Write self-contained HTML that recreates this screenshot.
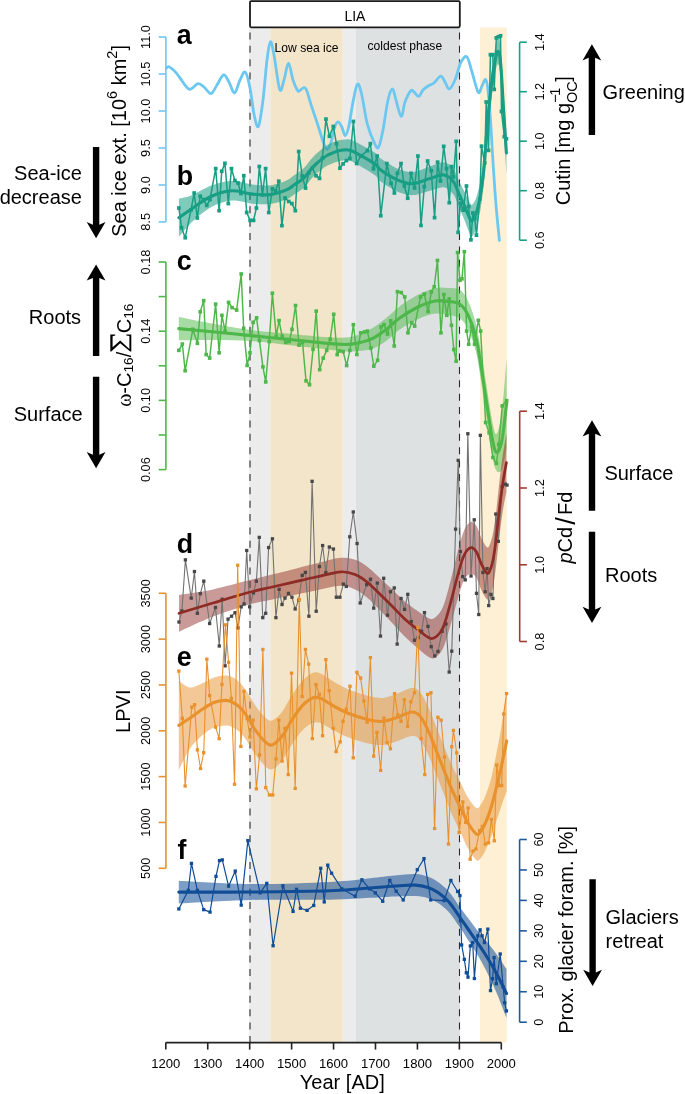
<!DOCTYPE html><html><head><meta charset="utf-8"><style>html,body{margin:0;padding:0;background:#fff;}svg{display:block;will-change:transform;font-family:"Liberation Sans", sans-serif;}</style></head><body><svg width="685" height="1094" viewBox="0 0 685 1094"><rect width="685" height="1094" fill="#fff"/><rect x="249.2" y="27.5" width="21.1" height="1015" fill="#ECECEC"/><rect x="270.3" y="27.5" width="72.5" height="1015" fill="#F3E5C9"/><rect x="342.8" y="27.5" width="12.8" height="1015" fill="#ECECEC"/><rect x="355.6" y="27.5" width="104.4" height="1015" fill="#DEE1E2"/><rect x="480" y="27.5" width="26.8" height="1015" fill="#FDF0D4"/><g stroke="#2a2a2a" stroke-width="1.1" stroke-dasharray="7,6.38"><line x1="250" y1="32.4" x2="250" y2="1042"/><line x1="459.5" y1="32.4" x2="459.5" y2="1042"/></g><rect x="250" y="1.1" width="209.8" height="26.2" rx="1.2" fill="#fff" stroke="#1a1a1a" stroke-width="1.8"/><text x="354.9" y="20.7" text-anchor="middle" font-size="14">LIA</text><text x="274.6" y="52" font-size="12.1">Low sea ice</text><text x="404.85" y="50.4" text-anchor="middle" font-size="12.1">coldest phase</text><path d="M166.4,68.2C166.8,67.95 167.37,66.15 168.8,66.7C170.23,67.25 173.13,69.62 175,71.5C176.87,73.38 177.63,75.05 180,78C182.37,80.95 186.2,88.27 189.2,89.2C192.2,90.13 195.53,83.97 198,83.6C200.47,83.23 201.83,85.33 204,87C206.17,88.67 208.83,93.93 211,93.6C213.17,93.27 214.9,88.12 217,85C219.1,81.88 221.6,75.4 223.6,74.9C225.6,74.4 227.18,78.98 229,82C230.82,85.02 232.67,93.33 234.5,93C236.33,92.67 238.2,83.5 240,80C241.8,76.5 243.63,70.67 245.3,72C246.97,73.33 248.55,81 250,88C251.45,95 252.6,107.58 254,114C255.4,120.42 256.9,128.83 258.4,126.5C259.9,124.17 261.57,111.08 263,100C264.43,88.92 265.77,69.68 267,60C268.23,50.32 269.23,42.73 270.4,41.9C271.57,41.07 272.45,47.07 274,55C275.55,62.93 278.03,85.33 279.7,89.5C281.37,93.67 282.53,84.38 284,80C285.47,75.62 287,63.2 288.5,63.2C290,63.2 291.55,75.53 293,80C294.45,84.47 296.18,88.15 297.2,90C298.22,91.85 298,91.5 299.1,91.1C300.2,90.7 302.53,87.7 303.8,87.6C305.07,87.5 305.43,87.48 306.7,90.5C307.97,93.52 309.45,99.67 311.4,105.7C313.35,111.73 316.37,120.47 318.4,126.7C320.43,132.93 322.15,139.3 323.6,143.1C325.05,146.9 325.83,149.7 327.1,149.5C328.37,149.3 330.03,145.32 331.2,141.9C332.37,138.48 333.03,132.32 334.1,129C335.17,125.68 336.33,122.38 337.6,122C338.87,121.62 340.43,124.45 341.7,126.7C342.97,128.95 344.03,135.5 345.2,135.5C346.37,135.5 347.33,132.63 348.7,126.7C350.07,120.77 351.93,107 353.4,99.9C354.87,92.8 356.13,85.08 357.5,84.1C358.87,83.12 359.95,87.28 361.6,94C363.25,100.72 365.17,116.03 367.4,124.4C369.63,132.77 373.12,140.45 375,144.2C376.88,147.95 377.37,149.27 378.7,146.9C380.03,144.53 381.45,137.82 383,130C384.55,122.18 386.42,106.83 388,100C389.58,93.17 391.17,89 392.5,89C393.83,89 394.55,95.43 396,100C397.45,104.57 399.7,116.07 401.2,116.4C402.7,116.73 403.4,106.28 405,102C406.6,97.72 409.3,92.37 410.8,90.7C412.3,89.03 412.67,91.05 414,92C415.33,92.95 417.3,96.73 418.8,96.4C420.3,96.07 421.38,91.77 423,90C424.62,88.23 426.67,86.97 428.5,85.8C430.33,84.63 431.97,84.6 434,83C436.03,81.4 438.87,76.37 440.7,76.2C442.53,76.03 443.57,79.87 445,82C446.43,84.13 447.63,89.33 449.3,89C450.97,88.67 453.05,84.5 455,80C456.95,75.5 459,65.83 461,62C463,58.17 465.17,55.33 467,57C468.83,58.67 470.13,66.12 472,72C473.87,77.88 476.53,89.97 478.2,92.3C479.87,94.63 480.77,88.15 482,86C483.23,83.85 484.6,78.73 485.6,79.4C486.6,80.07 487.18,83.23 488,90C488.82,96.77 489.67,108 490.5,120C491.33,132 492.08,147.83 493,162C493.92,176.17 494.93,191.93 496,205C497.07,218.07 498.83,234.5 499.4,240.4" fill="none" stroke="#6CC8F0" stroke-width="2.8" stroke-linecap="round" stroke-linejoin="round"/><path d="M178.9,198.61C180.75,198.18 186.48,197.27 190,196C193.52,194.73 196.33,192.78 200,191C203.67,189.22 207.72,186.9 212,185.3C216.28,183.7 221.53,182.06 225.7,181.4C229.87,180.73 233.07,180.88 237,181.32C240.93,181.76 245.47,183.37 249.3,184.05C253.13,184.72 256.5,185.15 260,185.36C263.5,185.56 266.97,185.67 270.3,185.26C273.63,184.85 277.05,183.83 280,182.9C282.95,181.96 285.63,180.95 288,179.66C290.37,178.37 292.2,176.55 294.2,175.15C296.2,173.75 298.18,172.65 300,171.25C301.82,169.85 303.27,168.74 305.1,166.76C306.93,164.78 309.18,161.49 311,159.36C312.82,157.22 314.18,155.7 316,153.97C317.82,152.24 320.07,150.42 321.9,148.97C323.73,147.52 325.18,146.34 327,145.28C328.82,144.21 330.97,143.36 332.8,142.58C334.63,141.8 336.17,141.1 338,140.59C339.83,140.07 341.8,139.66 343.8,139.48C345.8,139.31 347.43,138.81 350,139.53C352.57,140.26 355.03,141.6 359.2,143.81C363.37,146.03 371.53,150.45 375,152.84C378.47,155.22 377.17,155.98 380,158.12C382.83,160.26 388.32,163.67 392,165.7C395.68,167.73 398.52,169.24 402.1,170.3C405.68,171.36 408.87,172.72 413.5,172.08C418.13,171.45 425.23,168.11 429.9,166.5C434.57,164.88 438.48,162.83 441.5,162.39C444.52,161.94 445.92,162.6 448,163.81C450.08,165.01 452.22,166.91 454,169.64C455.78,172.37 456.95,176.53 458.7,180.21C460.45,183.89 462.75,188.16 464.5,191.73C466.25,195.3 467.93,199.48 469.2,201.65C470.47,203.81 470.93,205.37 472.1,204.72C473.27,204.06 474.93,201.11 476.2,197.7C477.47,194.29 478.73,188.79 479.7,184.28C480.67,179.78 481.22,176.37 482,170.67C482.78,164.96 483.65,158.28 484.4,150.06C485.15,141.85 485.75,130.55 486.5,121.38C487.25,112.22 487.8,105.28 488.9,95.05C490,84.82 491.67,69.25 493.1,60C494.53,50.75 496.27,41.74 497.5,39.56C498.73,37.37 499.48,38.13 500.5,46.89C501.52,55.65 502.62,77.78 503.6,92.13C504.58,106.49 505.93,126.19 506.4,133L506.4,173C505.93,165.48 504.58,143.85 503.6,127.87C502.62,111.89 501.52,87.68 500.5,77.11C499.48,66.54 498.73,63.1 497.5,64.44C496.27,65.79 494.53,75.68 493.1,85.2C491.67,94.72 490,110.98 488.9,121.55C487.8,132.12 487.25,139.22 486.5,148.62C485.75,158.01 485.15,169.49 484.4,177.94C483.65,186.39 482.78,193.37 482,199.33C481.22,205.3 480.67,208.89 479.7,213.72C478.73,218.54 477.47,224.47 476.2,228.3C474.93,232.13 473.27,236.01 472.1,236.68C470.93,237.36 470.47,235.09 469.2,232.35C467.93,229.62 466.25,224.63 464.5,220.27C462.75,215.91 460.45,210.34 458.7,206.19C456.95,202.04 455.78,198.19 454,195.36C452.22,192.53 450.08,190.52 448,189.19C445.92,187.87 444.52,187.16 441.5,187.41C438.48,187.67 434.57,189.42 429.9,190.7C425.23,191.99 418.13,194.69 413.5,195.12C408.87,195.55 405.68,194.37 402.1,193.3C398.52,192.23 395.68,190.77 392,188.7C388.32,186.63 382.83,183.1 380,180.88C377.17,178.66 378.47,177.91 375,175.36C371.53,172.81 363.37,168 359.2,165.59C355.03,163.17 352.57,161.71 350,160.87C347.43,160.02 345.8,160.43 343.8,160.52C341.8,160.61 339.83,160.96 338,161.41C336.17,161.86 334.63,162.5 332.8,163.22C330.97,163.94 328.82,164.72 327,165.72C325.18,166.72 323.73,167.85 321.9,169.23C320.07,170.62 317.82,172.36 316,174.03C314.18,175.7 312.82,177.18 311,179.24C309.18,181.31 306.93,184.52 305.1,186.44C303.27,188.36 301.82,189.42 300,190.75C298.18,192.09 296.2,193.12 294.2,194.45C292.2,195.78 290.37,197.53 288,198.74C285.63,199.95 282.95,200.84 280,201.7C277.05,202.57 273.63,203.51 270.3,203.94C266.97,204.36 263.5,204.37 260,204.24C256.5,204.11 253.13,203.75 249.3,203.15C245.47,202.56 240.93,200.94 237,200.68C233.07,200.42 229.87,200.6 225.7,201.6C221.53,202.61 216.28,204.46 212,206.7C207.72,208.93 203.67,212.12 200,215C196.33,217.88 193.52,220.37 190,224C186.48,227.63 180.75,234.66 178.9,236.79Z" fill="#179E84" fill-opacity="0.55"/><polyline points="178.92,208.02 181.54,227.72 185.22,237.71 191,209.86 194.16,193.04 197.31,218 200.2,196.2 203.35,199.61 206.77,205.39 209.92,199.61 215.7,168.61 219.12,210.65 221.74,171.23 224.9,163.35 228.31,203.55 231.47,168.61 234.88,180.43 238.03,183.06 240.92,193.57 243.82,175.7 246.71,212.49 250.12,220.37 253.54,220.37 256.43,208.02 259.32,166.51 262.47,194.88 265.62,168.61 268.78,212.49 272.45,188.84 275.61,190.94 278.76,181.22 281.91,225.62 285.07,198.03 288.74,201.45 291.9,203.55 295.31,210.65 298.73,151.53 302.24,176 305.51,188.03 308.78,172.85 312.28,168.18 316.02,175.77 319.53,178.34 322.45,158.25 325.95,119.12 329.45,136.29 333.31,126.48 336.46,143.65 339.96,168.18 343.12,163.85 346.39,160.58 349.89,158.48 353.39,121.46 356.66,163.5 360.75,156.15 367.41,150.66 370.33,143.65 373.48,168.76 377.16,156.06 380.76,215.7 386.87,163.55 391.03,183.25 394.36,192.95 397.41,173.26 401.01,163.55 404.34,186.02 407.67,198.22 411,173.26 414.6,187.96 417.93,156.06 420.98,225.41 424.31,186.57 427.64,161.05 431.25,170.76 434.58,217.64 437.63,162.16 440.4,181.03 443.73,146.35 446.5,168.54 449.28,202.66 451.5,166.6 453.44,176.87 456.21,141.36 458.16,232.34 460.37,203.22 463.15,210.15 466.48,186.02 468.7,206.55 470.92,239.83 472.86,212.93 474.8,218.47 476.46,235.12 479.79,199.06 481.5,146.2 484.7,163 486.2,102 488.5,150.4 490.4,54.7 492.7,54.7 494.2,89.4 496.3,37.9 498.4,36.8 500.5,35.8 501.5,111.5 504.3,136.7 506.4,138.8" fill="none" stroke="#179E84" stroke-width="1.5" stroke-linejoin="round"/><g fill="#179E84"><rect x="177.07" y="206.17" width="3.7" height="3.7"/><rect x="179.69" y="225.87" width="3.7" height="3.7"/><rect x="183.37" y="235.86" width="3.7" height="3.7"/><rect x="189.15" y="208.01" width="3.7" height="3.7"/><rect x="192.31" y="191.19" width="3.7" height="3.7"/><rect x="195.46" y="216.15" width="3.7" height="3.7"/><rect x="198.35" y="194.35" width="3.7" height="3.7"/><rect x="201.5" y="197.76" width="3.7" height="3.7"/><rect x="204.92" y="203.54" width="3.7" height="3.7"/><rect x="208.07" y="197.76" width="3.7" height="3.7"/><rect x="213.85" y="166.76" width="3.7" height="3.7"/><rect x="217.27" y="208.8" width="3.7" height="3.7"/><rect x="219.89" y="169.38" width="3.7" height="3.7"/><rect x="223.05" y="161.5" width="3.7" height="3.7"/><rect x="226.46" y="201.7" width="3.7" height="3.7"/><rect x="229.62" y="166.76" width="3.7" height="3.7"/><rect x="233.03" y="178.58" width="3.7" height="3.7"/><rect x="236.18" y="181.21" width="3.7" height="3.7"/><rect x="239.07" y="191.72" width="3.7" height="3.7"/><rect x="241.97" y="173.85" width="3.7" height="3.7"/><rect x="244.86" y="210.64" width="3.7" height="3.7"/><rect x="248.27" y="218.52" width="3.7" height="3.7"/><rect x="251.69" y="218.52" width="3.7" height="3.7"/><rect x="254.58" y="206.17" width="3.7" height="3.7"/><rect x="257.47" y="164.66" width="3.7" height="3.7"/><rect x="260.62" y="193.03" width="3.7" height="3.7"/><rect x="263.77" y="166.76" width="3.7" height="3.7"/><rect x="266.93" y="210.64" width="3.7" height="3.7"/><rect x="270.6" y="186.99" width="3.7" height="3.7"/><rect x="273.76" y="189.09" width="3.7" height="3.7"/><rect x="276.91" y="179.37" width="3.7" height="3.7"/><rect x="280.06" y="223.77" width="3.7" height="3.7"/><rect x="283.22" y="196.18" width="3.7" height="3.7"/><rect x="286.89" y="199.6" width="3.7" height="3.7"/><rect x="290.05" y="201.7" width="3.7" height="3.7"/><rect x="293.46" y="208.8" width="3.7" height="3.7"/><rect x="296.88" y="149.68" width="3.7" height="3.7"/><rect x="300.39" y="174.15" width="3.7" height="3.7"/><rect x="303.66" y="186.18" width="3.7" height="3.7"/><rect x="306.93" y="171" width="3.7" height="3.7"/><rect x="310.43" y="166.33" width="3.7" height="3.7"/><rect x="314.17" y="173.92" width="3.7" height="3.7"/><rect x="317.68" y="176.49" width="3.7" height="3.7"/><rect x="320.6" y="156.4" width="3.7" height="3.7"/><rect x="324.1" y="117.27" width="3.7" height="3.7"/><rect x="327.6" y="134.44" width="3.7" height="3.7"/><rect x="331.46" y="124.63" width="3.7" height="3.7"/><rect x="334.61" y="141.8" width="3.7" height="3.7"/><rect x="338.11" y="166.33" width="3.7" height="3.7"/><rect x="341.27" y="162" width="3.7" height="3.7"/><rect x="344.54" y="158.73" width="3.7" height="3.7"/><rect x="348.04" y="156.63" width="3.7" height="3.7"/><rect x="351.54" y="119.61" width="3.7" height="3.7"/><rect x="354.81" y="161.65" width="3.7" height="3.7"/><rect x="358.9" y="154.3" width="3.7" height="3.7"/><rect x="365.56" y="148.81" width="3.7" height="3.7"/><rect x="368.48" y="141.8" width="3.7" height="3.7"/><rect x="371.63" y="166.91" width="3.7" height="3.7"/><rect x="375.31" y="154.21" width="3.7" height="3.7"/><rect x="378.91" y="213.85" width="3.7" height="3.7"/><rect x="385.02" y="161.7" width="3.7" height="3.7"/><rect x="389.18" y="181.4" width="3.7" height="3.7"/><rect x="392.51" y="191.1" width="3.7" height="3.7"/><rect x="395.56" y="171.41" width="3.7" height="3.7"/><rect x="399.16" y="161.7" width="3.7" height="3.7"/><rect x="402.49" y="184.17" width="3.7" height="3.7"/><rect x="405.82" y="196.37" width="3.7" height="3.7"/><rect x="409.15" y="171.41" width="3.7" height="3.7"/><rect x="412.75" y="186.11" width="3.7" height="3.7"/><rect x="416.08" y="154.21" width="3.7" height="3.7"/><rect x="419.13" y="223.56" width="3.7" height="3.7"/><rect x="422.46" y="184.72" width="3.7" height="3.7"/><rect x="425.79" y="159.2" width="3.7" height="3.7"/><rect x="429.4" y="168.91" width="3.7" height="3.7"/><rect x="432.73" y="215.79" width="3.7" height="3.7"/><rect x="435.78" y="160.31" width="3.7" height="3.7"/><rect x="438.55" y="179.18" width="3.7" height="3.7"/><rect x="441.88" y="144.5" width="3.7" height="3.7"/><rect x="444.65" y="166.69" width="3.7" height="3.7"/><rect x="447.43" y="200.81" width="3.7" height="3.7"/><rect x="449.65" y="164.75" width="3.7" height="3.7"/><rect x="451.59" y="175.02" width="3.7" height="3.7"/><rect x="454.36" y="139.51" width="3.7" height="3.7"/><rect x="456.31" y="230.49" width="3.7" height="3.7"/><rect x="458.52" y="201.37" width="3.7" height="3.7"/><rect x="461.3" y="208.3" width="3.7" height="3.7"/><rect x="464.63" y="184.17" width="3.7" height="3.7"/><rect x="466.85" y="204.7" width="3.7" height="3.7"/><rect x="469.07" y="237.98" width="3.7" height="3.7"/><rect x="471.01" y="211.08" width="3.7" height="3.7"/><rect x="472.95" y="216.62" width="3.7" height="3.7"/><rect x="474.61" y="233.27" width="3.7" height="3.7"/><rect x="477.94" y="197.21" width="3.7" height="3.7"/><rect x="479.65" y="144.35" width="3.7" height="3.7"/><rect x="482.85" y="161.15" width="3.7" height="3.7"/><rect x="484.35" y="100.15" width="3.7" height="3.7"/><rect x="486.65" y="148.55" width="3.7" height="3.7"/><rect x="488.55" y="52.85" width="3.7" height="3.7"/><rect x="490.85" y="52.85" width="3.7" height="3.7"/><rect x="492.35" y="87.55" width="3.7" height="3.7"/><rect x="494.45" y="36.05" width="3.7" height="3.7"/><rect x="496.55" y="34.95" width="3.7" height="3.7"/><rect x="498.65" y="33.95" width="3.7" height="3.7"/><rect x="499.65" y="109.65" width="3.7" height="3.7"/><rect x="502.45" y="134.85" width="3.7" height="3.7"/><rect x="504.55" y="136.95" width="3.7" height="3.7"/></g><path d="M178.9,217.7C180.75,216.42 186.48,212.45 190,210C193.52,207.55 196.33,205.33 200,203C203.67,200.67 207.72,197.92 212,196C216.28,194.08 221.53,192.33 225.7,191.5C229.87,190.67 233.07,190.65 237,191C240.93,191.35 245.47,192.97 249.3,193.6C253.13,194.23 256.5,194.63 260,194.8C263.5,194.97 266.97,195.02 270.3,194.6C273.63,194.18 277.05,193.2 280,192.3C282.95,191.4 285.63,190.45 288,189.2C290.37,187.95 292.2,186.17 294.2,184.8C296.2,183.43 298.18,182.37 300,181C301.82,179.63 303.27,178.55 305.1,176.6C306.93,174.65 309.18,171.4 311,169.3C312.82,167.2 314.18,165.7 316,164C317.82,162.3 320.07,160.52 321.9,159.1C323.73,157.68 325.18,156.53 327,155.5C328.82,154.47 330.97,153.65 332.8,152.9C334.63,152.15 336.17,151.48 338,151C339.83,150.52 341.8,150.13 343.8,150C345.8,149.87 347.43,149.42 350,150.2C352.57,150.98 355.03,152.38 359.2,154.7C363.37,157.02 371.53,161.63 375,164.1C378.47,166.57 377.17,167.32 380,169.5C382.83,171.68 388.32,175.15 392,177.2C395.68,179.25 398.52,180.73 402.1,181.8C405.68,182.87 408.87,184.13 413.5,183.6C418.13,183.07 425.23,180.05 429.9,178.6C434.57,177.15 438.48,175.25 441.5,174.9C444.52,174.55 445.92,175.23 448,176.5C450.08,177.77 452.22,179.72 454,182.5C455.78,185.28 456.95,189.28 458.7,193.2C460.45,197.12 462.75,202.03 464.5,206C466.25,209.97 467.93,214.55 469.2,217C470.47,219.45 470.93,221.37 472.1,220.7C473.27,220.03 474.93,216.62 476.2,213C477.47,209.38 478.73,203.67 479.7,199C480.67,194.33 481.22,190.83 482,185C482.78,179.17 483.65,172.33 484.4,164C485.15,155.67 485.75,144.28 486.5,135C487.25,125.72 487.8,118.7 488.9,108.3C490,97.9 491.67,81.98 493.1,72.6C494.53,63.22 496.27,53.77 497.5,52C498.73,50.23 499.48,52.33 500.5,62C501.52,71.67 502.62,94.83 503.6,110C504.58,125.17 505.93,145.83 506.4,153" fill="none" stroke="#179E84" stroke-width="3.1" stroke-linecap="round"/><path d="M178.8,316.9C184.83,318.08 203.02,321.8 215,324C226.98,326.2 238.2,328.47 250.7,330.09C263.2,331.71 277.78,332.57 290,333.73C302.22,334.88 314.83,336.38 324,337C333.17,337.62 339.33,337.8 345,337.45C350.67,337.1 353.2,336.58 358,334.88C362.8,333.19 368.8,330.32 373.8,327.25C378.8,324.19 383.8,319.89 388,316.5C392.2,313.11 394,310.51 399,306.9C404,303.29 411.97,297.99 418,294.87C424.03,291.75 430.2,289.34 435.2,288.19C440.2,287.04 443.92,287.71 448,287.97C452.08,288.22 456.37,287.57 459.7,289.72C463.03,291.87 465.28,295.19 468,300.85C470.72,306.51 474,316.31 476,323.7C478,331.09 478.63,337.31 480,345.2C481.37,353.09 482.87,362.66 484.2,371.06C485.53,379.46 486.8,388.01 488,395.6C489.2,403.19 490.4,410.99 491.4,416.62C492.4,422.25 493.22,426.51 494,429.4C494.78,432.29 495.27,434.23 496.1,433.96C496.93,433.69 497.97,431.97 499,427.8C500.03,423.63 501.02,420.57 502.3,408.94C503.58,397.31 505.97,366.49 506.7,358L506.7,448C505.97,451.34 503.58,464.03 502.3,468.06C501.02,472.09 500.03,471.84 499,472.2C497.97,472.56 496.93,471.51 496.1,470.24C495.27,468.97 494.78,467.84 494,464.6C493.22,461.36 492.4,456.81 491.4,450.78C490.4,444.75 489.2,436.47 488,428.4C486.8,420.33 485.53,411.27 484.2,402.34C482.87,393.41 481.37,383.24 480,374.8C478.63,366.36 478,359.31 476,351.7C474,344.09 470.72,334.72 468,329.15C465.28,323.58 463.03,320.63 459.7,318.28C456.37,315.93 452.08,315.81 448,315.03C443.92,314.25 440.2,312.93 435.2,313.61C430.2,314.3 424.03,316.42 418,319.13C411.97,321.85 404,326.51 399,329.9C394,333.29 392.2,336.43 388,339.5C383.8,342.57 378.8,346.41 373.8,348.35C368.8,350.28 362.8,350.58 358,351.12C353.2,351.65 350.67,351.9 345,351.55C339.33,351.2 333.17,350.05 324,349C314.83,347.95 302.22,346.59 290,345.27C277.78,343.96 263.2,341.99 250.7,341.11C238.2,340.23 226.98,340.14 215,340C203.02,339.86 184.83,340.25 178.8,340.3Z" fill="#4DB749" fill-opacity="0.5"/><polyline points="178.84,350.37 182.34,344.06 185.14,370.69 192.85,329.35 197.41,343.36 200.21,311.83 203.71,300.62 206.17,354.58 209.67,358.08 215.63,304.12 219.13,352.82 221.93,315.33 225.09,331.1 228.59,302.37 232.1,307.62 236.65,310.08 241.21,273.99 243.66,328.3 247.16,365.44 249.96,352.82 253.12,322.34 256.62,317.79 259.43,340.56 262.93,366.84 265.73,381.91 269.24,341.61 272.39,293.26 276.24,336.36 279.05,320.59 282.2,336.36 285.7,342.31 289.21,341.61 292.01,329.35 295.52,305.52 299.02,345.12 302.52,342.31 306.03,380.85 309.53,384.71 313.03,349.32 316.19,311.13 319.69,369.64 323.2,358.08 326.7,350.37 330.2,339.16 333.71,314.28 337.21,354.58 339.34,350.95 343.14,351.53 346.64,365.55 349.85,350.36 353.36,324.67 356.86,354.45 360.66,332.85 364.45,331.97 367.37,331.09 370.88,348.03 373.8,366.13 377.59,360.29 381.09,327.01 384.01,324.67 387.52,334.01 390.73,320.88 394.23,345.99 397.45,291.68 401.24,292.55 404.74,296.93 407.96,332.85 411.75,322.63 414.67,326.13 420.51,296.93 424.31,294.01 428.1,311.53 431.31,291.97 434.23,286.72 437.45,260.44 440.95,332.85 443.87,294.6 446.79,315.33 449.12,298.98 451.46,325.26 453.8,349.49 456.13,361.17 457.59,252.55 459.93,280.29 461.97,278.83 464.31,251.68 466.64,331.09 468.69,344.23 471.61,326.72 474.53,344.23 478.32,320.29 480.66,331.09 485.62,422.48 489.12,432.7 492.92,457.52 496.42,463.36 498.76,444.38 502.26,405.84 506.64,400.58" fill="none" stroke="#4DB749" stroke-width="1.45" stroke-linejoin="round"/><g fill="#4DB749"><rect x="177.04" y="348.57" width="3.6" height="3.6"/><rect x="180.54" y="342.26" width="3.6" height="3.6"/><rect x="183.34" y="368.89" width="3.6" height="3.6"/><rect x="191.05" y="327.55" width="3.6" height="3.6"/><rect x="195.61" y="341.56" width="3.6" height="3.6"/><rect x="198.41" y="310.03" width="3.6" height="3.6"/><rect x="201.91" y="298.82" width="3.6" height="3.6"/><rect x="204.37" y="352.78" width="3.6" height="3.6"/><rect x="207.87" y="356.28" width="3.6" height="3.6"/><rect x="213.83" y="302.32" width="3.6" height="3.6"/><rect x="217.33" y="351.02" width="3.6" height="3.6"/><rect x="220.13" y="313.53" width="3.6" height="3.6"/><rect x="223.29" y="329.3" width="3.6" height="3.6"/><rect x="226.79" y="300.57" width="3.6" height="3.6"/><rect x="230.3" y="305.82" width="3.6" height="3.6"/><rect x="234.85" y="308.28" width="3.6" height="3.6"/><rect x="239.41" y="272.19" width="3.6" height="3.6"/><rect x="241.86" y="326.5" width="3.6" height="3.6"/><rect x="245.36" y="363.64" width="3.6" height="3.6"/><rect x="248.16" y="351.02" width="3.6" height="3.6"/><rect x="251.32" y="320.54" width="3.6" height="3.6"/><rect x="254.82" y="315.99" width="3.6" height="3.6"/><rect x="257.63" y="338.76" width="3.6" height="3.6"/><rect x="261.13" y="365.04" width="3.6" height="3.6"/><rect x="263.93" y="380.11" width="3.6" height="3.6"/><rect x="267.44" y="339.81" width="3.6" height="3.6"/><rect x="270.59" y="291.46" width="3.6" height="3.6"/><rect x="274.44" y="334.56" width="3.6" height="3.6"/><rect x="277.25" y="318.79" width="3.6" height="3.6"/><rect x="280.4" y="334.56" width="3.6" height="3.6"/><rect x="283.9" y="340.51" width="3.6" height="3.6"/><rect x="287.41" y="339.81" width="3.6" height="3.6"/><rect x="290.21" y="327.55" width="3.6" height="3.6"/><rect x="293.72" y="303.72" width="3.6" height="3.6"/><rect x="297.22" y="343.32" width="3.6" height="3.6"/><rect x="300.72" y="340.51" width="3.6" height="3.6"/><rect x="304.23" y="379.05" width="3.6" height="3.6"/><rect x="307.73" y="382.91" width="3.6" height="3.6"/><rect x="311.23" y="347.52" width="3.6" height="3.6"/><rect x="314.39" y="309.33" width="3.6" height="3.6"/><rect x="317.89" y="367.84" width="3.6" height="3.6"/><rect x="321.4" y="356.28" width="3.6" height="3.6"/><rect x="324.9" y="348.57" width="3.6" height="3.6"/><rect x="328.4" y="337.36" width="3.6" height="3.6"/><rect x="331.91" y="312.48" width="3.6" height="3.6"/><rect x="335.41" y="352.78" width="3.6" height="3.6"/><rect x="337.54" y="349.15" width="3.6" height="3.6"/><rect x="341.34" y="349.73" width="3.6" height="3.6"/><rect x="344.84" y="363.75" width="3.6" height="3.6"/><rect x="348.05" y="348.56" width="3.6" height="3.6"/><rect x="351.56" y="322.87" width="3.6" height="3.6"/><rect x="355.06" y="352.65" width="3.6" height="3.6"/><rect x="358.86" y="331.05" width="3.6" height="3.6"/><rect x="362.65" y="330.17" width="3.6" height="3.6"/><rect x="365.57" y="329.29" width="3.6" height="3.6"/><rect x="369.08" y="346.23" width="3.6" height="3.6"/><rect x="372" y="364.33" width="3.6" height="3.6"/><rect x="375.79" y="358.49" width="3.6" height="3.6"/><rect x="379.29" y="325.21" width="3.6" height="3.6"/><rect x="382.21" y="322.87" width="3.6" height="3.6"/><rect x="385.72" y="332.21" width="3.6" height="3.6"/><rect x="388.93" y="319.08" width="3.6" height="3.6"/><rect x="392.43" y="344.19" width="3.6" height="3.6"/><rect x="395.65" y="289.88" width="3.6" height="3.6"/><rect x="399.44" y="290.75" width="3.6" height="3.6"/><rect x="402.94" y="295.13" width="3.6" height="3.6"/><rect x="406.16" y="331.05" width="3.6" height="3.6"/><rect x="409.95" y="320.83" width="3.6" height="3.6"/><rect x="412.87" y="324.33" width="3.6" height="3.6"/><rect x="418.71" y="295.13" width="3.6" height="3.6"/><rect x="422.51" y="292.21" width="3.6" height="3.6"/><rect x="426.3" y="309.73" width="3.6" height="3.6"/><rect x="429.51" y="290.17" width="3.6" height="3.6"/><rect x="432.43" y="284.92" width="3.6" height="3.6"/><rect x="435.65" y="258.64" width="3.6" height="3.6"/><rect x="439.15" y="331.05" width="3.6" height="3.6"/><rect x="442.07" y="292.8" width="3.6" height="3.6"/><rect x="444.99" y="313.53" width="3.6" height="3.6"/><rect x="447.32" y="297.18" width="3.6" height="3.6"/><rect x="449.66" y="323.46" width="3.6" height="3.6"/><rect x="452" y="347.69" width="3.6" height="3.6"/><rect x="454.33" y="359.37" width="3.6" height="3.6"/><rect x="455.79" y="250.75" width="3.6" height="3.6"/><rect x="458.13" y="278.49" width="3.6" height="3.6"/><rect x="460.17" y="277.03" width="3.6" height="3.6"/><rect x="462.51" y="249.88" width="3.6" height="3.6"/><rect x="464.84" y="329.29" width="3.6" height="3.6"/><rect x="466.89" y="342.43" width="3.6" height="3.6"/><rect x="469.81" y="324.92" width="3.6" height="3.6"/><rect x="472.73" y="342.43" width="3.6" height="3.6"/><rect x="476.52" y="318.49" width="3.6" height="3.6"/><rect x="478.86" y="329.29" width="3.6" height="3.6"/><rect x="483.82" y="420.68" width="3.6" height="3.6"/><rect x="487.32" y="430.9" width="3.6" height="3.6"/><rect x="491.12" y="455.72" width="3.6" height="3.6"/><rect x="494.62" y="461.56" width="3.6" height="3.6"/><rect x="496.96" y="442.58" width="3.6" height="3.6"/><rect x="500.46" y="404.04" width="3.6" height="3.6"/><rect x="504.84" y="398.78" width="3.6" height="3.6"/></g><path d="M178.8,328.6C184.83,329.17 203.02,330.83 215,332C226.98,333.17 238.2,334.35 250.7,335.6C263.2,336.85 277.78,338.27 290,339.5C302.22,340.73 314.83,342.17 324,343C333.17,343.83 339.33,344.5 345,344.5C350.67,344.5 353.2,344.12 358,343C362.8,341.88 368.8,340.3 373.8,337.8C378.8,335.3 383.8,331.23 388,328C392.2,324.77 394,321.9 399,318.4C404,314.9 411.97,309.92 418,307C424.03,304.08 430.2,301.82 435.2,300.9C440.2,299.98 443.92,300.98 448,301.5C452.08,302.02 456.37,301.75 459.7,304C463.03,306.25 465.28,309.38 468,315C470.72,320.62 474,330.2 476,337.7C478,345.2 478.63,351.83 480,360C481.37,368.17 482.87,378.03 484.2,386.7C485.53,395.37 486.8,404.17 488,412C489.2,419.83 490.4,427.87 491.4,433.7C492.4,439.53 493.22,443.93 494,447C494.78,450.07 495.27,451.6 496.1,452.1C496.93,452.6 497.97,452.27 499,450C500.03,447.73 501.02,446.33 502.3,438.5C503.58,430.67 505.97,408.92 506.7,403" fill="none" stroke="#4DB749" stroke-width="3.1" stroke-linecap="round"/><path d="M179,594.9C184.67,593.98 201.57,591.77 213,589.38C224.43,587 238.1,582.99 247.6,580.59C257.1,578.2 262.7,576.82 270,575C277.3,573.18 283.73,571.56 291.4,569.65C299.07,567.74 307.73,565.5 316,563.53C324.27,561.55 334.33,558.39 341,557.8C347.67,557.21 351.67,558.54 356,560C360.33,561.46 363.25,563.75 367,566.54C370.75,569.34 374.5,573.13 378.5,576.76C382.5,580.39 386.72,584.29 391,588.31C395.28,592.33 399.87,597.19 404.2,600.88C408.53,604.58 412.7,607.51 417,610.5C421.3,613.49 426.67,617.92 430,618.8C433.33,619.68 434.87,617.73 437,615.8C439.13,613.87 441.05,611.1 442.8,607.22C444.55,603.34 445.9,598.12 447.5,592.5C449.1,586.88 450.82,579.83 452.4,573.52C453.98,567.21 455.4,560.83 457,554.62C458.6,548.42 460.42,541.08 462,536.29C463.58,531.49 464.88,528.27 466.5,525.84C468.12,523.41 470.03,521.67 471.7,521.7C473.37,521.73 474.9,523.32 476.5,526C478.1,528.68 479.53,534.23 481.3,537.8C483.07,541.37 485.57,546.57 487.1,547.39C488.63,548.21 489.43,545.46 490.5,542.71C491.57,539.95 492.58,535.77 493.5,530.86C494.42,525.95 495.08,520.83 496,513.25C496.92,505.67 497.92,494.76 499,485.4C500.08,476.04 501.27,465.7 502.5,457.07C503.73,448.44 505.75,437.53 506.4,433.63L506.4,491.57C505.75,495.13 503.73,504.96 502.5,512.93C501.27,520.9 500.08,530.43 499,539.4C497.92,548.37 496.92,559.33 496,566.75C495.08,574.17 494.42,579.18 493.5,583.94C492.58,588.7 491.57,592.71 490.5,595.29C489.43,597.87 488.63,600.32 487.1,599.41C485.57,598.49 483.07,593.37 481.3,589.8C479.53,586.23 478.1,580.68 476.5,578C474.9,575.32 473.37,574.01 471.7,573.7C470.03,573.39 468.12,574.29 466.5,576.16C464.88,578.02 463.58,580.71 462,584.91C460.42,589.12 458.6,595.78 457,601.38C455.4,606.97 453.98,612.79 452.4,618.48C450.82,624.17 449.1,630.45 447.5,635.5C445.9,640.55 444.55,645.33 442.8,648.78C441.05,652.23 439.13,654.7 437,656.2C434.87,657.7 433.33,659.25 430,657.8C426.67,656.35 421.3,651.15 417,647.5C412.7,643.85 408.53,640.22 404.2,635.92C399.87,631.61 395.28,626.23 391,621.69C386.72,617.14 382.5,612.68 378.5,608.64C374.5,604.6 370.75,600.56 367,597.46C363.25,594.35 360.33,591.94 356,590C351.67,588.06 347.67,585.72 341,585.8C334.33,585.88 324.27,588.85 316,590.47C307.73,592.1 299.07,593.96 291.4,595.55C283.73,597.14 277.3,598.42 270,600C262.7,601.58 257.1,602.24 247.6,605.01C238.1,607.78 224.43,612.17 213,616.62C201.57,621.07 184.67,629.19 179,631.7Z" fill="#8E2B25" fill-opacity="0.48"/><polyline points="178.98,622.04 181.9,610.95 185.4,559.85 191.24,598.1 194.45,571.53 197.37,613.28 200.29,593.72 203.8,581.17 209.64,623.5 215.47,607.45 219.27,645.99 222.19,599.27 225.11,665.84 228.03,619.12 231.53,616.2 235.04,612.7 237.96,627.88 241.17,606.86 244.09,603.94 246.72,550.51 249.64,606.86 253.43,592.85 256.35,581.17 259.27,537.37 262.77,617.66 265.69,613.28 268.61,547.59 272.41,538.83 275.91,617.66 279.12,589.34 282.04,604.53 284.96,598.1 288.47,593.43 291.97,597.23 295.18,608.91 298.69,600.15 302.19,575.33 305.4,572.41 308.91,616.2 312.12,481.31 316.2,611.24 319.42,566.57 322.63,545.55 325.84,572.41 329.34,547.01 333.43,549.05 336.35,597.23 339.85,597.23 343.36,584.09 346.28,586.42 349.78,536.79 353.28,511.97 357.08,543.5 360.23,602.98 366.66,584.67 370.51,579.21 373.72,608.12 377.26,583.07 380.47,636.06 383.68,578.25 387.53,615.18 390.42,591.74 394.28,587.89 397.17,644.09 401.02,598.48 404.56,609.4 407.77,594.31 411.3,621.61 414.51,640.24 418.04,637.67 421.58,631.24 424.47,612.62 428,626.43 431.21,646.66 434.75,655.97 437.96,651.48 442.13,631.24 445.99,623.86 449.2,672.03 451.77,651.16 455.62,529.11 458.19,460.38 460.44,551.59 462.69,576.64 465.26,579.86 467.83,433.72 471.04,576 474.25,519.8 476.5,593.35 478.75,614.54 480.35,435.33 482.92,572.47 485.17,591.74 487.1,568.62 488.7,605.55 490.95,594.31 492.88,598.48 495.77,514.02 498.34,541.32 502.19,486.72 505.4,484.15 507.01,485.11" fill="none" stroke="#727272" stroke-width="1.1" stroke-linejoin="round"/><g fill="#474747"><rect x="177.33" y="620.39" width="3.3" height="3.3"/><rect x="180.25" y="609.3" width="3.3" height="3.3"/><rect x="183.75" y="558.2" width="3.3" height="3.3"/><rect x="189.59" y="596.45" width="3.3" height="3.3"/><rect x="192.8" y="569.88" width="3.3" height="3.3"/><rect x="195.72" y="611.63" width="3.3" height="3.3"/><rect x="198.64" y="592.07" width="3.3" height="3.3"/><rect x="202.15" y="579.52" width="3.3" height="3.3"/><rect x="207.99" y="621.85" width="3.3" height="3.3"/><rect x="213.82" y="605.8" width="3.3" height="3.3"/><rect x="217.62" y="644.34" width="3.3" height="3.3"/><rect x="220.54" y="597.62" width="3.3" height="3.3"/><rect x="223.46" y="664.19" width="3.3" height="3.3"/><rect x="226.38" y="617.47" width="3.3" height="3.3"/><rect x="229.88" y="614.55" width="3.3" height="3.3"/><rect x="233.39" y="611.05" width="3.3" height="3.3"/><rect x="236.31" y="626.23" width="3.3" height="3.3"/><rect x="239.52" y="605.21" width="3.3" height="3.3"/><rect x="242.44" y="602.29" width="3.3" height="3.3"/><rect x="245.07" y="548.86" width="3.3" height="3.3"/><rect x="247.99" y="605.21" width="3.3" height="3.3"/><rect x="251.78" y="591.2" width="3.3" height="3.3"/><rect x="254.7" y="579.52" width="3.3" height="3.3"/><rect x="257.62" y="535.72" width="3.3" height="3.3"/><rect x="261.12" y="616.01" width="3.3" height="3.3"/><rect x="264.04" y="611.63" width="3.3" height="3.3"/><rect x="266.96" y="545.94" width="3.3" height="3.3"/><rect x="270.76" y="537.18" width="3.3" height="3.3"/><rect x="274.26" y="616.01" width="3.3" height="3.3"/><rect x="277.47" y="587.69" width="3.3" height="3.3"/><rect x="280.39" y="602.88" width="3.3" height="3.3"/><rect x="283.31" y="596.45" width="3.3" height="3.3"/><rect x="286.82" y="591.78" width="3.3" height="3.3"/><rect x="290.32" y="595.58" width="3.3" height="3.3"/><rect x="293.53" y="607.26" width="3.3" height="3.3"/><rect x="297.04" y="598.5" width="3.3" height="3.3"/><rect x="300.54" y="573.68" width="3.3" height="3.3"/><rect x="303.75" y="570.76" width="3.3" height="3.3"/><rect x="307.26" y="614.55" width="3.3" height="3.3"/><rect x="310.47" y="479.66" width="3.3" height="3.3"/><rect x="314.55" y="609.59" width="3.3" height="3.3"/><rect x="317.77" y="564.92" width="3.3" height="3.3"/><rect x="320.98" y="543.9" width="3.3" height="3.3"/><rect x="324.19" y="570.76" width="3.3" height="3.3"/><rect x="327.69" y="545.36" width="3.3" height="3.3"/><rect x="331.78" y="547.4" width="3.3" height="3.3"/><rect x="334.7" y="595.58" width="3.3" height="3.3"/><rect x="338.2" y="595.58" width="3.3" height="3.3"/><rect x="341.71" y="582.44" width="3.3" height="3.3"/><rect x="344.63" y="584.77" width="3.3" height="3.3"/><rect x="348.13" y="535.14" width="3.3" height="3.3"/><rect x="351.63" y="510.32" width="3.3" height="3.3"/><rect x="355.43" y="541.85" width="3.3" height="3.3"/><rect x="358.58" y="601.33" width="3.3" height="3.3"/><rect x="365.01" y="583.02" width="3.3" height="3.3"/><rect x="368.86" y="577.56" width="3.3" height="3.3"/><rect x="372.07" y="606.47" width="3.3" height="3.3"/><rect x="375.61" y="581.42" width="3.3" height="3.3"/><rect x="378.82" y="634.41" width="3.3" height="3.3"/><rect x="382.03" y="576.6" width="3.3" height="3.3"/><rect x="385.88" y="613.53" width="3.3" height="3.3"/><rect x="388.77" y="590.09" width="3.3" height="3.3"/><rect x="392.63" y="586.24" width="3.3" height="3.3"/><rect x="395.52" y="642.44" width="3.3" height="3.3"/><rect x="399.37" y="596.83" width="3.3" height="3.3"/><rect x="402.91" y="607.75" width="3.3" height="3.3"/><rect x="406.12" y="592.66" width="3.3" height="3.3"/><rect x="409.65" y="619.96" width="3.3" height="3.3"/><rect x="412.86" y="638.59" width="3.3" height="3.3"/><rect x="416.39" y="636.02" width="3.3" height="3.3"/><rect x="419.93" y="629.59" width="3.3" height="3.3"/><rect x="422.82" y="610.97" width="3.3" height="3.3"/><rect x="426.35" y="624.78" width="3.3" height="3.3"/><rect x="429.56" y="645.01" width="3.3" height="3.3"/><rect x="433.1" y="654.32" width="3.3" height="3.3"/><rect x="436.31" y="649.83" width="3.3" height="3.3"/><rect x="440.48" y="629.59" width="3.3" height="3.3"/><rect x="444.34" y="622.21" width="3.3" height="3.3"/><rect x="447.55" y="670.38" width="3.3" height="3.3"/><rect x="450.12" y="649.51" width="3.3" height="3.3"/><rect x="453.97" y="527.46" width="3.3" height="3.3"/><rect x="456.54" y="458.73" width="3.3" height="3.3"/><rect x="458.79" y="549.94" width="3.3" height="3.3"/><rect x="461.04" y="574.99" width="3.3" height="3.3"/><rect x="463.61" y="578.21" width="3.3" height="3.3"/><rect x="466.18" y="432.07" width="3.3" height="3.3"/><rect x="469.39" y="574.35" width="3.3" height="3.3"/><rect x="472.6" y="518.15" width="3.3" height="3.3"/><rect x="474.85" y="591.7" width="3.3" height="3.3"/><rect x="477.1" y="612.89" width="3.3" height="3.3"/><rect x="478.7" y="433.68" width="3.3" height="3.3"/><rect x="481.27" y="570.82" width="3.3" height="3.3"/><rect x="483.52" y="590.09" width="3.3" height="3.3"/><rect x="485.45" y="566.97" width="3.3" height="3.3"/><rect x="487.05" y="603.9" width="3.3" height="3.3"/><rect x="489.3" y="592.66" width="3.3" height="3.3"/><rect x="491.23" y="596.83" width="3.3" height="3.3"/><rect x="494.12" y="512.37" width="3.3" height="3.3"/><rect x="496.69" y="539.67" width="3.3" height="3.3"/><rect x="500.54" y="485.07" width="3.3" height="3.3"/><rect x="503.75" y="482.5" width="3.3" height="3.3"/><rect x="505.36" y="483.46" width="3.3" height="3.3"/></g><path d="M179,613.3C184.67,611.58 201.57,606.42 213,603C224.43,599.58 238.1,595.38 247.6,592.8C257.1,590.22 262.7,589.2 270,587.5C277.3,585.8 283.73,584.35 291.4,582.6C299.07,580.85 307.73,578.8 316,577C324.27,575.2 334.33,572.13 341,571.8C347.67,571.47 351.67,573.3 356,575C360.33,576.7 363.25,579.05 367,582C370.75,584.95 374.5,588.87 378.5,592.7C382.5,596.53 386.72,600.72 391,605C395.28,609.28 399.87,614.4 404.2,618.4C408.53,622.4 412.7,625.68 417,629C421.3,632.32 426.67,637.13 430,638.3C433.33,639.47 434.87,637.72 437,636C439.13,634.28 441.05,631.67 442.8,628C444.55,624.33 445.9,619.33 447.5,614C449.1,608.67 450.82,602 452.4,596C453.98,590 455.4,583.9 457,578C458.6,572.1 460.42,565.1 462,560.6C463.58,556.1 464.88,553.15 466.5,551C468.12,548.85 470.03,547.53 471.7,547.7C473.37,547.87 474.9,549.32 476.5,552C478.1,554.68 479.53,560.23 481.3,563.8C483.07,567.37 485.57,572.53 487.1,573.4C488.63,574.27 489.43,571.67 490.5,569C491.57,566.33 492.58,562.23 493.5,557.4C494.42,552.57 495.08,547.5 496,540C496.92,532.5 497.92,521.57 499,512.4C500.08,503.23 501.27,493.3 502.5,485C503.73,476.7 505.75,466.33 506.4,462.6" fill="none" stroke="#8E2B25" stroke-width="2.7" stroke-linecap="round"/><path d="M178.8,680.9C180.67,682 186.13,687.07 190,687.5C193.87,687.93 198,685.17 202,683.5C206,681.83 210.17,678.85 214,677.5C217.83,676.15 222,675.47 225,675.4C228,675.33 229.5,675.89 232,677.11C234.5,678.33 237.5,680.28 240,682.73C242.5,685.19 244.67,688.39 247,691.84C249.33,695.3 251.5,699.75 254,703.45C256.5,707.16 259.37,711.2 262,714.08C264.63,716.95 267.47,720.03 269.8,720.7C272.13,721.37 273.8,719.8 276,718.1C278.2,716.4 280.67,713.78 283,710.49C285.33,707.2 287.5,702.42 290,698.37C292.5,694.33 295.5,689.62 298,686.24C300.5,682.87 302.47,680.37 305,678.13C307.53,675.89 310.7,673.63 313.2,672.81C315.7,671.98 317.57,672.34 320,673.19C322.43,674.04 324.78,676.07 327.8,677.9C330.82,679.73 334.4,682.16 338.1,684.18C341.8,686.2 345.92,688.31 350,690C354.08,691.69 358.93,693.15 362.6,694.29C366.27,695.43 368.58,696.23 372,696.83C375.42,697.43 378.93,698.4 383.1,697.9C387.27,697.39 392.23,695.44 397,693.81C401.77,692.18 407.87,688.41 411.7,688.11C415.53,687.81 417.27,688.95 420,692C422.73,695.05 425.43,700.73 428.1,706.4C430.77,712.07 433.28,719.19 436,726C438.72,732.81 441.73,740.69 444.4,747.27C447.07,753.86 449.27,759.55 452,765.5C454.73,771.45 458.13,777.62 460.8,782.95C463.47,788.28 465.38,793.32 468,797.5C470.62,801.68 474.33,806.9 476.5,808.03C478.67,809.16 479.47,806.47 481,804.29C482.53,802.1 484.03,799.11 485.7,794.91C487.37,790.72 489.25,785.82 491,779.1C492.75,772.38 494.53,762.96 496.2,754.62C497.87,746.28 499.25,739.68 501,729.06C502.75,718.44 505.75,697.26 506.7,690.9L506.7,790.9C505.75,793.57 502.75,801.79 501,806.94C499.25,812.09 497.87,816.79 496.2,821.78C494.53,826.77 492.75,832.25 491,836.9C489.25,841.55 487.37,846.22 485.7,849.69C484.03,853.15 482.53,855.97 481,857.71C479.47,859.46 478.67,861.71 476.5,860.17C474.33,858.64 470.62,853.02 468,848.5C465.38,843.98 463.47,838.72 460.8,833.05C458.13,827.38 454.73,820.79 452,814.5C449.27,808.21 447.07,802.07 444.4,795.32C441.73,788.57 438.72,780.82 436,774C433.28,767.18 430.77,760.07 428.1,754.4C425.43,748.73 422.73,743.09 420,740C417.27,736.91 415.53,735.69 411.7,735.89C407.87,736.09 401.77,739.69 397,741.19C392.23,742.69 387.27,744.41 383.1,744.9C378.93,745.4 375.42,744.67 372,744.17C368.58,743.67 366.27,742.94 362.6,741.91C358.93,740.88 354.08,739.51 350,738C345.92,736.49 341.8,734.64 338.1,732.82C334.4,731 330.82,728.77 327.8,727.1C324.78,725.43 322.43,723.53 320,722.81C317.57,722.09 315.7,721.95 313.2,722.79C310.7,723.64 307.53,725.71 305,727.87C302.47,730.03 300.5,732.46 298,735.76C295.5,739.05 292.5,743.67 290,747.63C287.5,751.58 285.33,756.3 283,759.51C280.67,762.72 278.2,765.27 276,766.9C273.8,768.53 272.13,769.97 269.8,769.3C267.47,768.64 264.63,765.72 262,762.92C259.37,760.13 256.5,756.18 254,752.55C251.5,748.92 249.33,744.54 247,741.16C244.67,737.78 242.5,734.64 240,732.27C237.5,729.89 234.5,728.04 232,726.89C229.5,725.75 228,725.3 225,725.4C222,725.5 217.83,725.82 214,727.5C210.17,729.18 206,732 202,735.5C198,739 193.87,742.77 190,748.5C186.13,754.23 180.67,766.33 178.8,769.9Z" fill="#E8912D" fill-opacity="0.5"/><polyline points="178.84,671.07 182.34,718.37 185.14,786 191.8,707.16 194.6,704.71 197.41,749.91 200.56,768.48 203.71,752.71 206.87,659.16 209.67,695.6 215.63,727.13 219.13,738.7 221.93,684.39 225.44,624.82 228.59,662.31 231.39,698.4 234.55,784.25 237.7,565.26 240.85,746.41 244.01,691.39 247.16,718.72 249.96,736.94 253.08,720.16 256.35,788.85 259.62,754.91 262.89,649.44 265.76,787.62 269.44,794.98 272.71,794.98 275.98,759 278.84,720.16 282.11,761.05 284.97,728.34 288.24,774.54 291.51,673.15 295.19,788.44 299.28,599.56 302.14,696.45 305.41,649.44 308.68,664.15 312.36,738.56 316.04,684.6 319.31,694.41 322.58,735.7 325.85,659.66 329.13,690.73 333.21,728.34 336.08,751.64 340.16,741.83 343.03,721.39 346.3,709.13 349.98,686.23 353.25,757.78 356.93,672.33 360.61,678.05 363.88,700.95 367.15,722.21 370.42,657.61 373.69,756.14 376.96,732.43 380.64,770.45 383.91,718.12 387.18,742.65 390.45,748.78 394.54,693.59 397.81,714.85 401.08,721.39 404.35,699.72 407.62,726.3 410.89,701.77 414.57,692.77 417.84,627.36 421.11,738.56 424.79,774.54 427.65,694.41 430.92,692.77 434.6,828.5 437.87,717.3 441.14,720.16 444.42,756.96 448.5,844.04 451.77,746.74 453.41,730.38 456.68,752.87 459.13,832.59 462.81,801.93 465.67,822.37 468.13,808.06 470.17,859.17 473.03,850.99 475.9,848.95 479.57,830.55 482.44,826.46 485.3,844.04 488.57,842.81 491.43,819.51 494.29,840.77 496.75,765.13 499.61,785.58 501.65,785.58 503.7,714.03 506.56,693.59" fill="none" stroke="#E8912D" stroke-width="1.1" stroke-linejoin="round"/><g fill="#E8912D"><rect x="177.19" y="669.42" width="3.3" height="3.3"/><rect x="180.69" y="716.72" width="3.3" height="3.3"/><rect x="183.49" y="784.35" width="3.3" height="3.3"/><rect x="190.15" y="705.51" width="3.3" height="3.3"/><rect x="192.95" y="703.06" width="3.3" height="3.3"/><rect x="195.76" y="748.26" width="3.3" height="3.3"/><rect x="198.91" y="766.83" width="3.3" height="3.3"/><rect x="202.06" y="751.06" width="3.3" height="3.3"/><rect x="205.22" y="657.51" width="3.3" height="3.3"/><rect x="208.02" y="693.95" width="3.3" height="3.3"/><rect x="213.98" y="725.48" width="3.3" height="3.3"/><rect x="217.48" y="737.05" width="3.3" height="3.3"/><rect x="220.28" y="682.74" width="3.3" height="3.3"/><rect x="223.79" y="623.17" width="3.3" height="3.3"/><rect x="226.94" y="660.66" width="3.3" height="3.3"/><rect x="229.74" y="696.75" width="3.3" height="3.3"/><rect x="232.9" y="782.6" width="3.3" height="3.3"/><rect x="236.05" y="563.61" width="3.3" height="3.3"/><rect x="239.2" y="744.76" width="3.3" height="3.3"/><rect x="242.36" y="689.74" width="3.3" height="3.3"/><rect x="245.51" y="717.07" width="3.3" height="3.3"/><rect x="248.31" y="735.29" width="3.3" height="3.3"/><rect x="251.43" y="718.51" width="3.3" height="3.3"/><rect x="254.7" y="787.2" width="3.3" height="3.3"/><rect x="257.97" y="753.26" width="3.3" height="3.3"/><rect x="261.24" y="647.79" width="3.3" height="3.3"/><rect x="264.11" y="785.97" width="3.3" height="3.3"/><rect x="267.79" y="793.33" width="3.3" height="3.3"/><rect x="271.06" y="793.33" width="3.3" height="3.3"/><rect x="274.33" y="757.35" width="3.3" height="3.3"/><rect x="277.19" y="718.51" width="3.3" height="3.3"/><rect x="280.46" y="759.4" width="3.3" height="3.3"/><rect x="283.32" y="726.69" width="3.3" height="3.3"/><rect x="286.59" y="772.89" width="3.3" height="3.3"/><rect x="289.86" y="671.5" width="3.3" height="3.3"/><rect x="293.54" y="786.79" width="3.3" height="3.3"/><rect x="297.63" y="597.91" width="3.3" height="3.3"/><rect x="300.49" y="694.8" width="3.3" height="3.3"/><rect x="303.76" y="647.79" width="3.3" height="3.3"/><rect x="307.03" y="662.5" width="3.3" height="3.3"/><rect x="310.71" y="736.91" width="3.3" height="3.3"/><rect x="314.39" y="682.95" width="3.3" height="3.3"/><rect x="317.66" y="692.76" width="3.3" height="3.3"/><rect x="320.93" y="734.05" width="3.3" height="3.3"/><rect x="324.2" y="658.01" width="3.3" height="3.3"/><rect x="327.48" y="689.08" width="3.3" height="3.3"/><rect x="331.56" y="726.69" width="3.3" height="3.3"/><rect x="334.43" y="749.99" width="3.3" height="3.3"/><rect x="338.51" y="740.18" width="3.3" height="3.3"/><rect x="341.38" y="719.74" width="3.3" height="3.3"/><rect x="344.65" y="707.48" width="3.3" height="3.3"/><rect x="348.33" y="684.58" width="3.3" height="3.3"/><rect x="351.6" y="756.13" width="3.3" height="3.3"/><rect x="355.28" y="670.68" width="3.3" height="3.3"/><rect x="358.96" y="676.4" width="3.3" height="3.3"/><rect x="362.23" y="699.3" width="3.3" height="3.3"/><rect x="365.5" y="720.56" width="3.3" height="3.3"/><rect x="368.77" y="655.96" width="3.3" height="3.3"/><rect x="372.04" y="754.49" width="3.3" height="3.3"/><rect x="375.31" y="730.78" width="3.3" height="3.3"/><rect x="378.99" y="768.8" width="3.3" height="3.3"/><rect x="382.26" y="716.47" width="3.3" height="3.3"/><rect x="385.53" y="741" width="3.3" height="3.3"/><rect x="388.8" y="747.13" width="3.3" height="3.3"/><rect x="392.89" y="691.94" width="3.3" height="3.3"/><rect x="396.16" y="713.2" width="3.3" height="3.3"/><rect x="399.43" y="719.74" width="3.3" height="3.3"/><rect x="402.7" y="698.07" width="3.3" height="3.3"/><rect x="405.97" y="724.65" width="3.3" height="3.3"/><rect x="409.24" y="700.12" width="3.3" height="3.3"/><rect x="412.92" y="691.12" width="3.3" height="3.3"/><rect x="416.19" y="625.71" width="3.3" height="3.3"/><rect x="419.46" y="736.91" width="3.3" height="3.3"/><rect x="423.14" y="772.89" width="3.3" height="3.3"/><rect x="426" y="692.76" width="3.3" height="3.3"/><rect x="429.27" y="691.12" width="3.3" height="3.3"/><rect x="432.95" y="826.85" width="3.3" height="3.3"/><rect x="436.22" y="715.65" width="3.3" height="3.3"/><rect x="439.49" y="718.51" width="3.3" height="3.3"/><rect x="442.77" y="755.31" width="3.3" height="3.3"/><rect x="446.85" y="842.39" width="3.3" height="3.3"/><rect x="450.12" y="745.09" width="3.3" height="3.3"/><rect x="451.76" y="728.73" width="3.3" height="3.3"/><rect x="455.03" y="751.22" width="3.3" height="3.3"/><rect x="457.48" y="830.94" width="3.3" height="3.3"/><rect x="461.16" y="800.28" width="3.3" height="3.3"/><rect x="464.02" y="820.72" width="3.3" height="3.3"/><rect x="466.48" y="806.41" width="3.3" height="3.3"/><rect x="468.52" y="857.52" width="3.3" height="3.3"/><rect x="471.38" y="849.34" width="3.3" height="3.3"/><rect x="474.25" y="847.3" width="3.3" height="3.3"/><rect x="477.92" y="828.9" width="3.3" height="3.3"/><rect x="480.79" y="824.81" width="3.3" height="3.3"/><rect x="483.65" y="842.39" width="3.3" height="3.3"/><rect x="486.92" y="841.16" width="3.3" height="3.3"/><rect x="489.78" y="817.86" width="3.3" height="3.3"/><rect x="492.64" y="839.12" width="3.3" height="3.3"/><rect x="495.1" y="763.48" width="3.3" height="3.3"/><rect x="497.96" y="783.93" width="3.3" height="3.3"/><rect x="500" y="783.93" width="3.3" height="3.3"/><rect x="502.05" y="712.38" width="3.3" height="3.3"/><rect x="504.91" y="691.94" width="3.3" height="3.3"/></g><path d="M178.8,725.4C180.67,724.17 186.13,720.65 190,718C193.87,715.35 198,712.08 202,709.5C206,706.92 210.17,704.02 214,702.5C217.83,700.98 222,700.48 225,700.4C228,700.32 229.5,700.82 232,702C234.5,703.18 237.5,705.08 240,707.5C242.5,709.92 244.67,713.08 247,716.5C249.33,719.92 251.5,724.33 254,728C256.5,731.67 259.37,735.67 262,738.5C264.63,741.33 267.47,744.33 269.8,745C272.13,745.67 273.8,744.17 276,742.5C278.2,740.83 280.67,738.25 283,735C285.33,731.75 287.5,727 290,723C292.5,719 295.5,714.33 298,711C300.5,707.67 302.47,705.2 305,703C307.53,700.8 310.7,698.63 313.2,697.8C315.7,696.97 317.57,697.22 320,698C322.43,698.78 324.78,700.75 327.8,702.5C330.82,704.25 334.4,706.58 338.1,708.5C341.8,710.42 345.92,712.4 350,714C354.08,715.6 358.93,717.02 362.6,718.1C366.27,719.18 368.58,719.95 372,720.5C375.42,721.05 378.93,721.9 383.1,721.4C387.27,720.9 392.23,719.07 397,717.5C401.77,715.93 407.87,712.25 411.7,712C415.53,711.75 417.27,712.93 420,716C422.73,719.07 425.43,724.73 428.1,730.4C430.77,736.07 433.28,743.18 436,750C438.72,756.82 441.73,764.63 444.4,771.3C447.07,777.97 449.27,783.88 452,790C454.73,796.12 458.13,802.5 460.8,808C463.47,813.5 465.38,818.65 468,823C470.62,827.35 474.33,832.77 476.5,834.1C478.67,835.43 479.47,832.97 481,831C482.53,829.03 484.03,826.13 485.7,822.3C487.37,818.47 489.25,813.68 491,808C492.75,802.32 494.53,794.87 496.2,788.2C497.87,781.53 499.25,775.88 501,768C502.75,760.12 505.75,745.42 506.7,740.9" fill="none" stroke="#E8912D" stroke-width="3.1" stroke-linecap="round"/><path d="M178.8,880.7C190.67,881.25 224.8,883.8 250,884C275.2,884.2 310,882.88 330,881.91C350,880.94 359.17,879.26 370,878.2C380.83,877.14 387.43,876.22 395,875.53C402.57,874.85 409.9,873.9 415.4,874.11C420.9,874.32 424.17,875.42 428,876.8C431.83,878.17 434.9,879.84 438.4,882.33C441.9,884.83 445.48,887.7 449,891.77C452.52,895.84 456.33,902.37 459.5,906.74C462.67,911.12 465.12,914.17 468,918C470.88,921.83 473.8,925.93 476.8,929.72C479.8,933.51 482.8,936.78 486,940.73C489.2,944.68 492.58,948.7 496,953.41C499.42,958.12 504.75,966.4 506.5,969L506.5,1018C504.75,1013.6 499.42,999.55 496,991.59C492.58,983.64 489.2,976.59 486,970.27C482.8,963.95 479.8,958.72 476.8,953.68C473.8,948.63 470.88,944.47 468,940C465.12,935.53 462.67,931.48 459.5,926.86C456.33,922.23 452.52,916.16 449,912.23C445.48,908.3 441.9,905.61 438.4,903.27C434.9,900.93 431.83,899.4 428,898.2C424.17,897.01 420.9,896.38 415.4,896.09C409.9,895.8 402.57,896.18 395,896.47C387.43,896.75 380.83,897.26 370,897.8C359.17,898.34 350,899.32 330,899.69C310,900.06 275.2,899.36 250,900C224.8,900.64 190.67,902.92 178.8,903.5Z" fill="#104D96" fill-opacity="0.55"/><polyline points="178.84,908.94 188.3,890.37 191.45,863.39 197.41,890.37 203.71,909.64 210.02,912.1 215.98,876.36 219.48,860.59 222.28,859.89 228.59,886.17 235.25,871.1 241.21,905.09 247.86,840.62 260.13,892.82 266.78,883.36 273.09,945.73 282.9,885.82 293.06,911.39 296.57,889.32 300.42,908.24 307.08,910.34 313.74,905.44 320.74,868.3 324.25,901.93 327.75,865.14 331.6,873.2 341.75,888.84 355.18,896.23 361.9,879.77 369.62,888.84 375.33,892.87 382.72,901.26 389.77,880.44 396.15,891.19 403.2,899.92 410.59,885.48 417.31,869.7 424.02,858.62 430.74,899.92 444.17,900.59 450.89,880.44 457.6,891.52 459.95,895.55 461.63,944.92 464.32,959.36 466.33,972.79 468.01,977.15 470.36,945.92 472.71,942.57 474.39,978.5 477.75,935.85 480.1,929.81 482.12,935.85 484.47,942.57 487.82,929.13 490.51,990.58 492.6,978.7 494.1,957.6 496.3,983.7 500.2,954 503.2,987 504.7,1002.8 506.4,1010.9" fill="none" stroke="#104D96" stroke-width="1.2" stroke-linejoin="round"/><g fill="#104D96"><rect x="177.19" y="907.29" width="3.3" height="3.3"/><rect x="186.65" y="888.72" width="3.3" height="3.3"/><rect x="189.8" y="861.74" width="3.3" height="3.3"/><rect x="195.76" y="888.72" width="3.3" height="3.3"/><rect x="202.06" y="907.99" width="3.3" height="3.3"/><rect x="208.37" y="910.45" width="3.3" height="3.3"/><rect x="214.33" y="874.71" width="3.3" height="3.3"/><rect x="217.83" y="858.94" width="3.3" height="3.3"/><rect x="220.63" y="858.24" width="3.3" height="3.3"/><rect x="226.94" y="884.52" width="3.3" height="3.3"/><rect x="233.6" y="869.45" width="3.3" height="3.3"/><rect x="239.56" y="903.44" width="3.3" height="3.3"/><rect x="246.21" y="838.97" width="3.3" height="3.3"/><rect x="258.48" y="891.17" width="3.3" height="3.3"/><rect x="265.13" y="881.71" width="3.3" height="3.3"/><rect x="271.44" y="944.08" width="3.3" height="3.3"/><rect x="281.25" y="884.17" width="3.3" height="3.3"/><rect x="291.41" y="909.74" width="3.3" height="3.3"/><rect x="294.92" y="887.67" width="3.3" height="3.3"/><rect x="298.77" y="906.59" width="3.3" height="3.3"/><rect x="305.43" y="908.69" width="3.3" height="3.3"/><rect x="312.09" y="903.79" width="3.3" height="3.3"/><rect x="319.09" y="866.65" width="3.3" height="3.3"/><rect x="322.6" y="900.28" width="3.3" height="3.3"/><rect x="326.1" y="863.49" width="3.3" height="3.3"/><rect x="329.95" y="871.55" width="3.3" height="3.3"/><rect x="340.1" y="887.19" width="3.3" height="3.3"/><rect x="353.53" y="894.58" width="3.3" height="3.3"/><rect x="360.25" y="878.12" width="3.3" height="3.3"/><rect x="367.97" y="887.19" width="3.3" height="3.3"/><rect x="373.68" y="891.22" width="3.3" height="3.3"/><rect x="381.07" y="899.61" width="3.3" height="3.3"/><rect x="388.12" y="878.79" width="3.3" height="3.3"/><rect x="394.5" y="889.54" width="3.3" height="3.3"/><rect x="401.55" y="898.27" width="3.3" height="3.3"/><rect x="408.94" y="883.83" width="3.3" height="3.3"/><rect x="415.66" y="868.05" width="3.3" height="3.3"/><rect x="422.37" y="856.97" width="3.3" height="3.3"/><rect x="429.09" y="898.27" width="3.3" height="3.3"/><rect x="442.52" y="898.94" width="3.3" height="3.3"/><rect x="449.24" y="878.79" width="3.3" height="3.3"/><rect x="455.95" y="889.87" width="3.3" height="3.3"/><rect x="458.3" y="893.9" width="3.3" height="3.3"/><rect x="459.98" y="943.27" width="3.3" height="3.3"/><rect x="462.67" y="957.71" width="3.3" height="3.3"/><rect x="464.68" y="971.14" width="3.3" height="3.3"/><rect x="466.36" y="975.5" width="3.3" height="3.3"/><rect x="468.71" y="944.27" width="3.3" height="3.3"/><rect x="471.06" y="940.92" width="3.3" height="3.3"/><rect x="472.74" y="976.85" width="3.3" height="3.3"/><rect x="476.1" y="934.2" width="3.3" height="3.3"/><rect x="478.45" y="928.16" width="3.3" height="3.3"/><rect x="480.47" y="934.2" width="3.3" height="3.3"/><rect x="482.82" y="940.92" width="3.3" height="3.3"/><rect x="486.17" y="927.48" width="3.3" height="3.3"/><rect x="488.86" y="988.93" width="3.3" height="3.3"/><rect x="490.95" y="977.05" width="3.3" height="3.3"/><rect x="492.45" y="955.95" width="3.3" height="3.3"/><rect x="494.65" y="982.05" width="3.3" height="3.3"/><rect x="498.55" y="952.35" width="3.3" height="3.3"/><rect x="501.55" y="985.35" width="3.3" height="3.3"/><rect x="503.05" y="1001.15" width="3.3" height="3.3"/><rect x="504.75" y="1009.25" width="3.3" height="3.3"/></g><path d="M178.8,892.1C190.67,892.08 224.8,892.22 250,892C275.2,891.78 310,891.47 330,890.8C350,890.13 359.17,888.8 370,888C380.83,887.2 387.43,886.48 395,886C402.57,885.52 409.9,884.85 415.4,885.1C420.9,885.35 424.17,886.22 428,887.5C431.83,888.78 434.9,890.38 438.4,892.8C441.9,895.22 445.48,898 449,902C452.52,906 456.33,912.3 459.5,916.8C462.67,921.3 465.12,924.85 468,929C470.88,933.15 473.8,937.28 476.8,941.7C479.8,946.12 482.8,950.37 486,955.5C489.2,960.63 492.58,966.17 496,972.5C499.42,978.83 504.75,990 506.5,993.5" fill="none" stroke="#104D96" stroke-width="3.1" stroke-linecap="round"/><g stroke="#6CC8F0" stroke-width="1.6" fill="none"><line x1="165.9" y1="37" x2="165.9" y2="221.9"/><line x1="165.9" y1="37" x2="158.7" y2="37"/><line x1="165.9" y1="74" x2="158.7" y2="74"/><line x1="165.9" y1="111" x2="158.7" y2="111"/><line x1="165.9" y1="148" x2="158.7" y2="148"/><line x1="165.9" y1="185" x2="158.7" y2="185"/><line x1="165.9" y1="221.9" x2="158.7" y2="221.9"/></g><text transform="translate(145.5,37) rotate(-90)" text-anchor="middle" font-size="12.8" fill="#000" dominant-baseline="central">11.0</text><text transform="translate(145.5,74) rotate(-90)" text-anchor="middle" font-size="12.8" fill="#000" dominant-baseline="central">10.5</text><text transform="translate(145.5,111) rotate(-90)" text-anchor="middle" font-size="12.8" fill="#000" dominant-baseline="central">10.0</text><text transform="translate(145.5,148) rotate(-90)" text-anchor="middle" font-size="12.8" fill="#000" dominant-baseline="central">9.5</text><text transform="translate(145.5,185) rotate(-90)" text-anchor="middle" font-size="12.8" fill="#000" dominant-baseline="central">9.0</text><text transform="translate(145.5,221.9) rotate(-90)" text-anchor="middle" font-size="12.8" fill="#000" dominant-baseline="central">8.5</text><g stroke="#1A9E85" stroke-width="1.6" fill="none"><line x1="519.6" y1="42.2" x2="519.6" y2="240.2"/><line x1="519.6" y1="42.2" x2="526.8" y2="42.2"/><line x1="519.6" y1="91.7" x2="526.8" y2="91.7"/><line x1="519.6" y1="141.2" x2="526.8" y2="141.2"/><line x1="519.6" y1="190.7" x2="526.8" y2="190.7"/><line x1="519.6" y1="240.2" x2="526.8" y2="240.2"/></g><text transform="translate(539,42.2) rotate(-90)" text-anchor="middle" font-size="12.8" fill="#000" dominant-baseline="central">1.4</text><text transform="translate(539,91.7) rotate(-90)" text-anchor="middle" font-size="12.8" fill="#000" dominant-baseline="central">1.2</text><text transform="translate(539,141.2) rotate(-90)" text-anchor="middle" font-size="12.8" fill="#000" dominant-baseline="central">1.0</text><text transform="translate(539,190.7) rotate(-90)" text-anchor="middle" font-size="12.8" fill="#000" dominant-baseline="central">0.8</text><text transform="translate(539,240.2) rotate(-90)" text-anchor="middle" font-size="12.8" fill="#000" dominant-baseline="central">0.6</text><g stroke="#4DB749" stroke-width="1.6" fill="none"><line x1="165.9" y1="262" x2="165.9" y2="469.6"/><line x1="165.9" y1="262" x2="158.7" y2="262"/><line x1="165.9" y1="296.6" x2="158.7" y2="296.6"/><line x1="165.9" y1="331.2" x2="158.7" y2="331.2"/><line x1="165.9" y1="365.8" x2="158.7" y2="365.8"/><line x1="165.9" y1="400.4" x2="158.7" y2="400.4"/><line x1="165.9" y1="435" x2="158.7" y2="435"/><line x1="165.9" y1="469.6" x2="158.7" y2="469.6"/></g><text transform="translate(145.5,262) rotate(-90)" text-anchor="middle" font-size="12.8" fill="#000" dominant-baseline="central">0.18</text><text transform="translate(145.5,331.2) rotate(-90)" text-anchor="middle" font-size="12.8" fill="#000" dominant-baseline="central">0.14</text><text transform="translate(145.5,400.4) rotate(-90)" text-anchor="middle" font-size="12.8" fill="#000" dominant-baseline="central">0.10</text><text transform="translate(145.5,469.6) rotate(-90)" text-anchor="middle" font-size="12.8" fill="#000" dominant-baseline="central">0.06</text><g stroke="#A23B34" stroke-width="1.6" fill="none"><line x1="519.7" y1="411.2" x2="519.7" y2="641.5"/><line x1="519.7" y1="411.2" x2="526.9" y2="411.2"/><line x1="519.7" y1="488" x2="526.9" y2="488"/><line x1="519.7" y1="564.8" x2="526.9" y2="564.8"/><line x1="519.7" y1="641.5" x2="526.9" y2="641.5"/></g><text transform="translate(539.1,411.2) rotate(-90)" text-anchor="middle" font-size="12.8" fill="#000" dominant-baseline="central">1.4</text><text transform="translate(539.1,488) rotate(-90)" text-anchor="middle" font-size="12.8" fill="#000" dominant-baseline="central">1.2</text><text transform="translate(539.1,564.8) rotate(-90)" text-anchor="middle" font-size="12.8" fill="#000" dominant-baseline="central">1.0</text><text transform="translate(539.1,641.5) rotate(-90)" text-anchor="middle" font-size="12.8" fill="#000" dominant-baseline="central">0.8</text><g stroke="#E8912D" stroke-width="1.6" fill="none"><line x1="165.9" y1="593.3" x2="165.9" y2="868.28"/><line x1="165.9" y1="593.3" x2="158.7" y2="593.3"/><line x1="165.9" y1="639.13" x2="158.7" y2="639.13"/><line x1="165.9" y1="684.96" x2="158.7" y2="684.96"/><line x1="165.9" y1="730.79" x2="158.7" y2="730.79"/><line x1="165.9" y1="776.62" x2="158.7" y2="776.62"/><line x1="165.9" y1="822.45" x2="158.7" y2="822.45"/><line x1="165.9" y1="868.28" x2="158.7" y2="868.28"/></g><text transform="translate(145.5,593.3) rotate(-90)" text-anchor="middle" font-size="12.8" fill="#000" dominant-baseline="central">3500</text><text transform="translate(145.5,639.13) rotate(-90)" text-anchor="middle" font-size="12.8" fill="#000" dominant-baseline="central">3000</text><text transform="translate(145.5,684.96) rotate(-90)" text-anchor="middle" font-size="12.8" fill="#000" dominant-baseline="central">2500</text><text transform="translate(145.5,730.79) rotate(-90)" text-anchor="middle" font-size="12.8" fill="#000" dominant-baseline="central">2000</text><text transform="translate(145.5,776.62) rotate(-90)" text-anchor="middle" font-size="12.8" fill="#000" dominant-baseline="central">1500</text><text transform="translate(145.5,822.45) rotate(-90)" text-anchor="middle" font-size="12.8" fill="#000" dominant-baseline="central">1000</text><text transform="translate(145.5,868.28) rotate(-90)" text-anchor="middle" font-size="12.8" fill="#000" dominant-baseline="central">500</text><g stroke="#1F5A9E" stroke-width="1.6" fill="none"><line x1="519.6" y1="839.5" x2="519.6" y2="1022.2"/><line x1="519.6" y1="839.5" x2="526.8" y2="839.5"/><line x1="519.6" y1="869.95" x2="526.8" y2="869.95"/><line x1="519.6" y1="900.4" x2="526.8" y2="900.4"/><line x1="519.6" y1="930.85" x2="526.8" y2="930.85"/><line x1="519.6" y1="961.3" x2="526.8" y2="961.3"/><line x1="519.6" y1="991.75" x2="526.8" y2="991.75"/><line x1="519.6" y1="1022.2" x2="526.8" y2="1022.2"/></g><text transform="translate(538.9,839.5) rotate(-90)" text-anchor="middle" font-size="12.8" fill="#000" dominant-baseline="central">60</text><text transform="translate(538.9,869.95) rotate(-90)" text-anchor="middle" font-size="12.8" fill="#000" dominant-baseline="central">50</text><text transform="translate(538.9,900.4) rotate(-90)" text-anchor="middle" font-size="12.8" fill="#000" dominant-baseline="central">40</text><text transform="translate(538.9,930.85) rotate(-90)" text-anchor="middle" font-size="12.8" fill="#000" dominant-baseline="central">30</text><text transform="translate(538.9,961.3) rotate(-90)" text-anchor="middle" font-size="12.8" fill="#000" dominant-baseline="central">20</text><text transform="translate(538.9,991.75) rotate(-90)" text-anchor="middle" font-size="12.8" fill="#000" dominant-baseline="central">10</text><text transform="translate(538.9,1022.2) rotate(-90)" text-anchor="middle" font-size="12.8" fill="#000" dominant-baseline="central">0</text><g stroke="#222" stroke-width="1.6"><line x1="165.8" y1="1042.6" x2="501.3" y2="1042.6"/><line x1="165.8" y1="1042.6" x2="165.8" y2="1049.6"/><line x1="207.74" y1="1042.6" x2="207.74" y2="1049.6"/><line x1="249.68" y1="1042.6" x2="249.68" y2="1049.6"/><line x1="291.61" y1="1042.6" x2="291.61" y2="1049.6"/><line x1="333.55" y1="1042.6" x2="333.55" y2="1049.6"/><line x1="375.49" y1="1042.6" x2="375.49" y2="1049.6"/><line x1="417.43" y1="1042.6" x2="417.43" y2="1049.6"/><line x1="459.37" y1="1042.6" x2="459.37" y2="1049.6"/><line x1="501.3" y1="1042.6" x2="501.3" y2="1049.6"/></g><text x="165.8" y="1067.7" text-anchor="middle" font-size="13.1">1200</text><text x="207.74" y="1067.7" text-anchor="middle" font-size="13.1">1300</text><text x="249.68" y="1067.7" text-anchor="middle" font-size="13.1">1400</text><text x="291.61" y="1067.7" text-anchor="middle" font-size="13.1">1500</text><text x="333.55" y="1067.7" text-anchor="middle" font-size="13.1">1600</text><text x="375.49" y="1067.7" text-anchor="middle" font-size="13.1">1700</text><text x="417.43" y="1067.7" text-anchor="middle" font-size="13.1">1800</text><text x="459.37" y="1067.7" text-anchor="middle" font-size="13.1">1900</text><text x="501.3" y="1067.7" text-anchor="middle" font-size="13.1">2000</text><text x="342.3" y="1089" text-anchor="middle" font-size="20">Year [AD]</text><text x="176.7" y="43.6" font-size="26.8" font-weight="bold">a</text><text x="176.7" y="184.5" font-size="26.8" font-weight="bold">b</text><text x="176.7" y="269.7" font-size="26.8" font-weight="bold">c</text><text x="176.7" y="553.3" font-size="26.8" font-weight="bold">d</text><text x="176.7" y="666.2" font-size="26.8" font-weight="bold">e</text><text x="177.6" y="859.3" font-size="26.8" font-weight="bold">f</text><g transform="translate(126.2,236.8) rotate(-90)"><text x="0" y="0" font-size="20">Sea ice ext. [10<tspan dy="-9" font-size="14.5">6</tspan><tspan dy="9"> km</tspan><tspan dy="-9" font-size="14.5">2</tspan><tspan dy="9">]</tspan></text></g><g transform="translate(569.6,205.2) rotate(-90)"><text x="0" y="0" font-size="20">Cutin [mg g<tspan dy="6.9" font-size="14.5">OC</tspan><tspan dx="-21.5" dy="-16.7" font-size="14.5">&#8722;<tspan dx="-1.5">1</tspan></tspan><tspan dx="6" dy="9.8">]</tspan></text></g><g transform="translate(130.5,406.8) rotate(-90)"><text x="0" y="0" font-size="20"><tspan font-family="Liberation Serif">&#969;</tspan>-C<tspan dy="2.6" font-size="13.7">16</tspan><tspan dy="-2.6">/</tspan><tspan dx="18.5">C</tspan><tspan dy="2.6" font-size="13.7">16</tspan></text><path d="M55.3,-20.2 L72.4,-20.2 L72.4,-15.3 L71.2,-15.3 L70.5,-17.9 L59.6,-17.9 L66.4,-10.3 L57.9,-1.1 L70.9,-1.1 L71.3,-4.2 L72.4,-4.2 L72.4,0.8 L55.3,0.8 L55.3,-0.3 L63.6,-10.3 L55.3,-19.2 Z" fill="#000"/></g><g transform="translate(572.3,563.6) rotate(-90)"><text x="0" y="0" font-size="20"><tspan font-style="italic">p</tspan>Cd<tspan font-size="27" dx="2.2" dy="2.6">/</tspan><tspan dx="2.2" dy="-2.6">Fd</tspan></text></g><g transform="translate(130,732.9) rotate(-90)"><text x="0" y="0" font-size="20">LPVI</text></g><g transform="translate(572.5,1033.8) rotate(-90)"><text x="0" y="0" font-size="20">Prox. glacier foram. [%]</text></g><text x="81.9" y="179.7" text-anchor="end" font-size="20">Sea-ice</text><text x="81.9" y="203.8" text-anchor="end" font-size="20">decrease</text><text x="81.1" y="323.8" text-anchor="end" font-size="20">Roots</text><text x="82.7" y="420.9" text-anchor="end" font-size="20">Surface</text><text x="602.6" y="99" text-anchor="start" font-size="20">Greening</text><text x="604.4" y="480.1" text-anchor="start" font-size="20">Surface</text><text x="605" y="582.2" text-anchor="start" font-size="20">Roots</text><text x="605.4" y="923.7" text-anchor="start" font-size="20">Glaciers</text><text x="605.6" y="947.9" text-anchor="start" font-size="20">retreat</text><polygon points="92.9,147 99.3,147 99.3,224.8 105.5,222.1 96.1,238.3 86.7,222.1 92.9,224.8" fill="#000"/><polygon points="92.9,356 99.3,356 99.3,277.9 105.5,280.6 96.1,264.4 86.7,280.6 92.9,277.9" fill="#000"/><polygon points="92.9,376.8 99.3,376.8 99.3,454.8 105.5,452.1 96.1,468.3 86.7,452.1 92.9,454.8" fill="#000"/><polygon points="588.7,135.1 595.1,135.1 595.1,57.8 601.3,60.5 591.9,44.3 582.5,60.5 588.7,57.8" fill="#000"/><polygon points="588.8,510.8 595.2,510.8 595.2,433.8 601.4,436.5 592,420.3 582.6,436.5 588.8,433.8" fill="#000"/><polygon points="588.8,531.7 595.2,531.7 595.2,609.4 601.4,606.7 592,622.9 582.6,606.7 588.8,609.4" fill="#000"/><polygon points="589.4,879.2 595.8,879.2 595.8,972.4 602,969.7 592.6,985.9 583.2,969.7 589.4,972.4" fill="#000"/></svg></body></html>
